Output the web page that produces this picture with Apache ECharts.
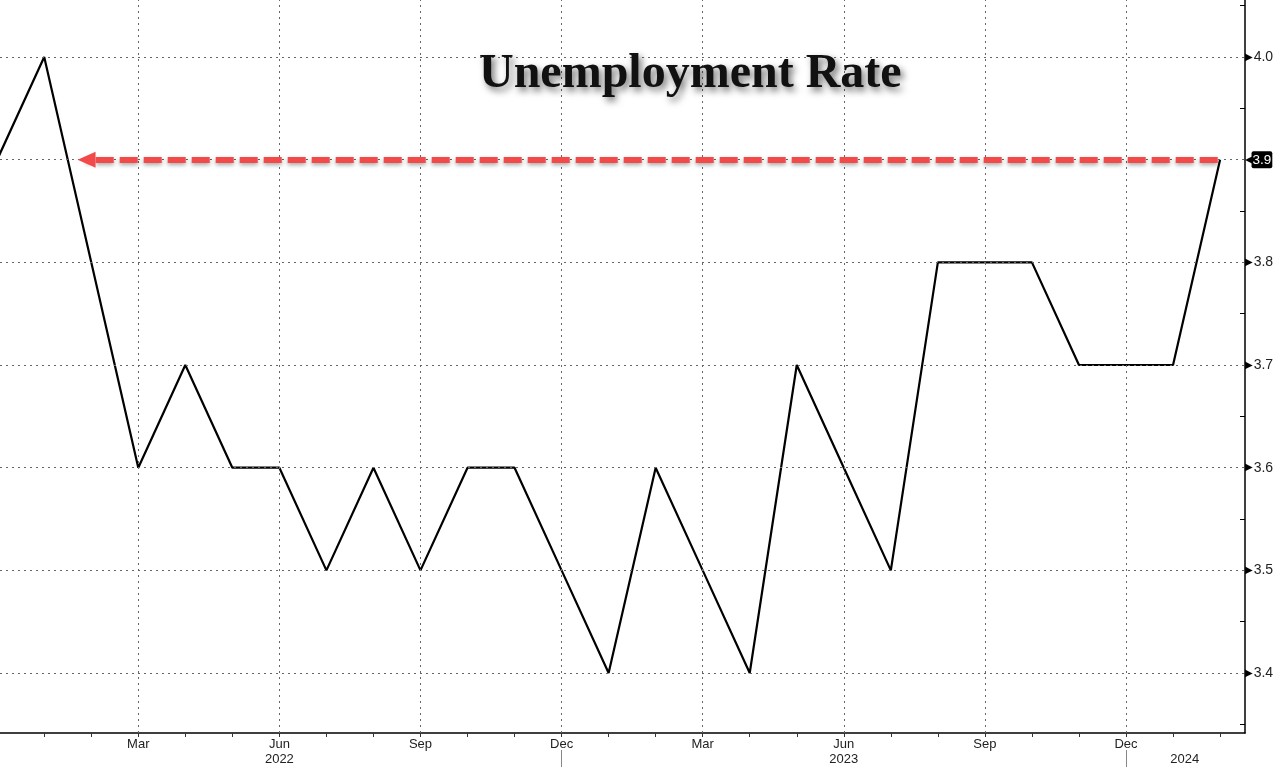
<!DOCTYPE html>
<html>
<head>
<meta charset="utf-8">
<script src="https://cdn.jsdelivr.net/npm/echarts@6/dist/echarts.min.js"></script>
<style>
html,body{margin:0;padding:0;background:#fff;}
#c{width:1275px;height:767px;}
</style>
</head>
<body>
<div id="c"></div>
<script>
// ---- data ----
const months = ['2021-12','2022-01','2022-02','2022-03','2022-04','2022-05','2022-06','2022-07','2022-08','2022-09','2022-10','2022-11','2022-12',
  '2023-01','2023-02','2023-03','2023-04','2023-05','2023-06','2023-07','2023-08','2023-09','2023-10','2023-11','2023-12','2024-01','2024-02'];
const unemployment = [3.9,4.0,3.8,3.6,3.7,3.6,3.6,3.5,3.6,3.5,3.6,3.6,3.5,
  3.4,3.6,3.5,3.4,3.7,3.6,3.5,3.8,3.8,3.8,3.7,3.7,3.7,3.9];
const yTickLabels = [3.4,3.5,3.6,3.7,3.8,3.9,4.0];
const yMinorTicks = [3.35,3.45,3.55,3.65,3.75,3.85,3.95,4.05];
const xLabelMonths = ['2022-03','2022-06','2022-09','2022-12','2023-03','2023-06','2023-09','2023-12'];
const yearSeparators = ['2022-12','2023-12'];
const extraYearLabel = {pos: 25.25, text: '2024'};
const currentValue = 3.9;
const arrowEndIndex = 1.9;
const arrowStartIndex = 25.95;

const monthAbbr = ['Jan','Feb','Mar','Apr','May','Jun','Jul','Aug','Sep','Oct','Nov','Dec'];
const idx = m => months.indexOf(m);

const chart = echarts.init(document.getElementById('c'), null, {renderer:'canvas'});
const lineData = months.map((m,i)=>[i, unemployment[i]]);
const labelFont = 'Liberation Sans';

const option = {
  animation: false,
  backgroundColor: '#ffffff',
  title: {
    text: 'Unemployment Rate',
    left: 474, top: 46,
    textStyle: {
      fontFamily: 'Liberation Serif', fontWeight: 'bold', fontSize: 48, color: '#111',
      textShadowColor: 'rgba(0,0,0,0.55)', textShadowBlur: 7, textShadowOffsetX: 3, textShadowOffsetY: 4
    }
  },
  grid: {left: 0, right: 30, top: 0, bottom: 34, containLabel: false, outerBoundsMode: 'none'},
  xAxis: [{
    type: 'value', min: 0.06, max: 26.53,
    axisLine: {show: true, onZero: false, lineStyle: {color: '#000', width: 1.5}},
    axisTick: {show: true, customValues: months.map((m,i)=>i).filter(i=>i>0), length: 4, lineStyle: {color:'#333'}},
    splitLine: {show: false},
    axisLabel: {
      show: true,
      customValues: xLabelMonths.map(idx).concat([extraYearLabel.pos]),
      margin: 4,
      fontFamily: labelFont, fontSize: 13, color: '#222', lineHeight: 15,
      formatter: function(v){
        if (Math.abs(v - extraYearLabel.pos) < 1e-6) return '\n' + extraYearLabel.text;
        const m = months[Math.round(v)];
        if (!m) return '';
        const [y, mo] = m.split('-');
        const name = monthAbbr[parseInt(mo,10)-1];
        return mo === '06' ? name + '\n' + y : name;
      }
    }
  },{
    type: 'value', min: 0.06, max: 26.53, position: 'bottom', offset: 17,
    axisLine: {show: false},
    axisTick: {show: true, customValues: yearSeparators.map(idx), length: 20, lineStyle: {color:'#888', width: 1}},
    axisLabel: {show: false},
    splitLine: {show: false}
  }],
  yAxis: {
    type: 'value', position: 'right', min: 3.3416, max: 4.0555,
    axisLine: {show: true, lineStyle: {color: '#000', width: 1.5}},
    axisTick: {show: true, inside: true, customValues: yMinorTicks, length: 5, lineStyle: {color:'#000'}},
    splitLine: {show: false},
    axisLabel: {
      show: true,
      customValues: yTickLabels,
      margin: 0,
      formatter: function(v){
        const s = v.toFixed(1);
        if (Math.abs(v - currentValue) < 1e-6) return '{tp|◀}{tag|' + s + '}';
        return '{tri|▶}{v|' + s + '}';
      },
      rich: {
        tri: {fontSize: 10, color: '#000', fontFamily: 'DejaVu Sans', padding: [0,0,0,0]},
        v: {fontSize: 14, color: '#222', fontFamily: labelFont, padding: [0,0,0,1]},
        tp: {fontSize: 15, color: '#000', fontFamily: 'DejaVu Sans', padding: [0,-5,0,0]},
        tag: {fontSize: 13.5, color: '#fff', fontFamily: labelFont, backgroundColor: '#000', padding: [2,1,1,1], borderRadius: 2}
      }
    }
  },
  series: [{
    name: 'grid', type: 'line', data: [], z: 1, silent: true,
    markLine: {
      silent: true, symbol: 'none', animation: false,
      label: {show: false},
      lineStyle: {type: [2,4], color: '#666', width: 1},
      data: yTickLabels.map(v=>({yAxis: v})).concat(xLabelMonths.map(m=>({xAxis: idx(m)})))
    }
  },{
    name: 'Unemployment Rate', type: 'line', data: lineData, z: 3,
    symbol: 'none', clip: true,
    lineStyle: {color: '#000', width: 2.2},
    markLine: {
      silent: true, animation: false, z: 5,
      symbol: ['none','triangle'], symbolSize: [16, 18],
      label: {show: false},
      lineStyle: {type: [18,6], color: '#f24a4a', width: 6, cap: 'butt',
        shadowColor: 'rgba(0,0,0,0.35)', shadowBlur: 4, shadowOffsetY: 2},
      itemStyle: {color: '#f24a4a'},
      data: [[{coord: [arrowStartIndex, currentValue]}, {coord: [arrowEndIndex, currentValue]}]]
    }
  }]
};
chart.setOption(option);
</script>
</body>
</html>
